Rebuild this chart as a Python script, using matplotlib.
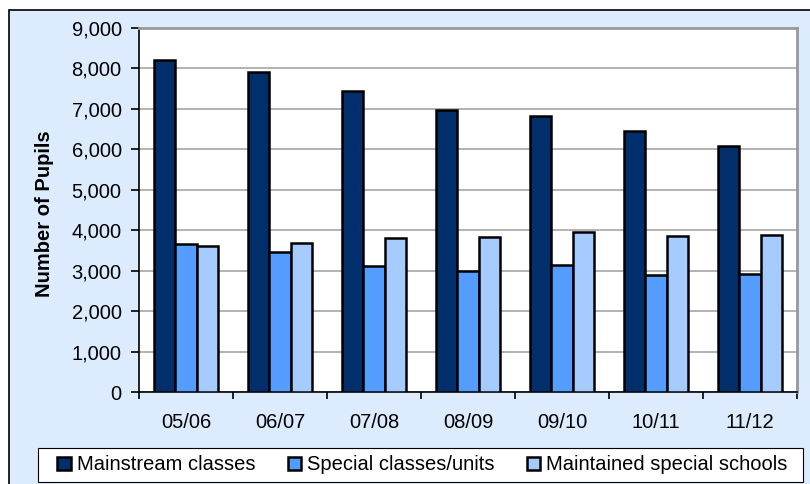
import matplotlib
matplotlib.use("Agg")
import matplotlib.pyplot as plt
from matplotlib.patches import Rectangle
import numpy as np

categories = ["05/06", "06/07", "07/08", "08/09", "09/10", "10/11", "11/12"]
mainstream = [8210, 7920, 7440, 6965, 6825, 6460, 6085]
special_units = [3650, 3470, 3125, 2990, 3135, 2900, 2925]
special_schools = [3600, 3690, 3810, 3825, 3965, 3865, 3875]
series_names = ["Mainstream classes", "Special classes/units", "Maintained special schools"]
colors = ["#002F6C", "#559CFF", "#A6CBFF"]

plt.rcParams['font.family'] = ['Liberation Sans', 'DejaVu Sans']

W, H = 810, 484
fig = plt.figure(figsize=(W / 100, H / 100), dpi=100)
fig.patch.set_facecolor("white")

# chart area background with border
bg = Rectangle((9 / W, -0.01), 1.0, 1.01 - 10 / H, transform=fig.transFigure,
               facecolor="#DCEBFE", edgecolor="black", linewidth=1.2, zorder=-10)
fig.add_artist(bg)

left, right, top, bottom = 139, 797, 28, 392
ax = fig.add_axes([left / W, 1 - bottom / H, (right - left) / W, (bottom - top) / H])
ax.set_zorder(1)
ax.set_facecolor("white")

x = np.arange(len(categories))
bw = 0.225
for i, (vals, c) in enumerate(zip([mainstream, special_units, special_schools], colors)):
    ax.bar(x + (i - 1) * bw, vals, width=bw, color=c, edgecolor="black",
           linewidth=1.8, label=series_names[i], zorder=3)

ax.set_xlim(-0.5, len(categories) - 0.5)
ax.set_ylim(0, 9000)
ax.set_yticks(np.arange(0, 9001, 1000))
ax.set_yticklabels([f"{v:,}" for v in range(0, 9001, 1000)])
ax.yaxis.grid(True, color="#A6A6A6", linewidth=1.2, zorder=0)
ax.set_axisbelow(True)

ax.set_xticks(x)
ax.set_xticklabels(categories)
ax.set_xticks(np.arange(-0.5, len(categories), 1), minor=True)
ax.tick_params(axis="x", which="major", length=0, pad=15, labelsize=14.5)
ax.tick_params(axis="x", which="minor", length=5, width=1.2, direction="out")
ax.tick_params(axis="y", length=5.5, width=1.2, direction="out", pad=7, labelsize=14.5)

for s in ["top", "right"]:
    ax.spines[s].set_color("#999999")
    ax.spines[s].set_linewidth(2)
for s in ["left", "bottom"]:
    ax.spines[s].set_color("black")
    ax.spines[s].set_linewidth(1.2)

ax.set_ylabel("Number of Pupils", fontsize=14.5, fontweight="bold")
ax.yaxis.set_label_coords((45 - left) / (right - left), 0.49)
ax.yaxis.label.set_verticalalignment("center")

# legend box
lx0, lx1, ly0, ly1 = 38, 803, 448, 482
box = Rectangle((lx0 / W, 1 - ly1 / H), (lx1 - lx0) / W, (ly1 - ly0) / H,
                transform=fig.transFigure, facecolor="white", edgecolor="black",
                linewidth=0.8, zorder=2)
fig.add_artist(box)
leg = fig.legend(loc="center", bbox_to_anchor=((lx0 + lx1) / 2 / W + 2 / W, 1 - (ly0 + ly1) / 2 / H),
                 ncol=3, fontsize=14.5, frameon=False,
                 handlelength=0.65, handleheight=0.65, handletextpad=0.3, borderaxespad=0,
                 columnspacing=1.62, borderpad=0)
leg.set_zorder(3)

fig.savefig("out.png", dpi=100)
